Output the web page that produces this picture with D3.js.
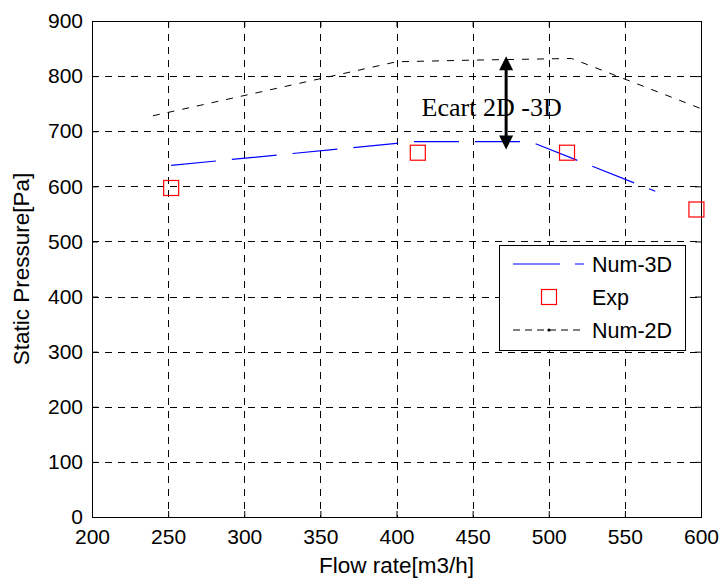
<!DOCTYPE html>
<html>
<head>
<meta charset="utf-8">
<script src="https://cdn.jsdelivr.net/npm/d3@7"></script>
<style>
  body { margin: 0; background: #fff; }
  svg { display: block; }
  text { font-family: "Liberation Sans", Arial, sans-serif; fill: #000; }
</style>
</head>
<body>
<svg id="chart" width="723" height="578"></svg>
<script>
// data
const flow2D = [240, 400, 450, 515, 600];
const num2D = [728, 826, 829, 832, 741];
const flow3D = [252, 400, 410, 488, 570];
const num3D = [638, 678, 681, 681, 591];
const flowExp = [252, 414, 512, 597];
const pExp = [597, 661, 661, 558];
const xTicks = [200, 250, 300, 350, 400, 450, 500, 550, 600];
const yTicks = [0, 100, 200, 300, 400, 500, 600, 700, 800, 900];
const legendLabels = ['Num-3D', 'Exp', 'Num-2D'];
const ecart = { flow: 472, top: 836, bottom: 667, label: 'Ecart 2D -3D', textFlow: 416.5, textP: 727.5 };

const mLeft = 92, mRight = 701, mTop = 21, mBottom = 517;
const x = d3.scaleLinear().domain([200, 600]).range([mLeft, mRight]);
const y = d3.scaleLinear().domain([0, 900]).range([mBottom, mTop]);

const svg = d3.select('#chart');
svg.append('rect').attr('width', 723).attr('height', 578).attr('fill', '#fff');

// grid
const grid = svg.append('g').attr('stroke', '#000').attr('stroke-width', 1).attr('stroke-dasharray', '7,6');
grid.selectAll('.gx').data(xTicks.slice(1, -1)).enter().append('line')
  .attr('x1', d => Math.round(x(d)) + 0.5).attr('x2', d => Math.round(x(d)) + 0.5)
  .attr('y1', mTop).attr('y2', mBottom);
grid.selectAll('.gy').data(yTicks.slice(1, -1)).enter().append('line')
  .attr('y1', d => Math.round(y(d)) + 0.5).attr('y2', d => Math.round(y(d)) + 0.5)
  .attr('x1', mLeft).attr('x2', mRight);

// axes
const fmt = d3.format('d');
const axB = svg.append('g').attr('transform', `translate(0,${mBottom})`)
  .call(d3.axisBottom(x).tickValues(xTicks).tickFormat(fmt).tickSizeInner(-6).tickSizeOuter(0).tickPadding(12));
const axL = svg.append('g').attr('transform', `translate(${mLeft},0)`)
  .call(d3.axisLeft(y).tickValues(yTicks).tickFormat(fmt).tickSizeInner(-6).tickSizeOuter(0).tickPadding(9));
const axT = svg.append('g').attr('transform', `translate(0,${mTop})`)
  .call(d3.axisTop(x).tickValues(xTicks).tickFormat('').tickSizeInner(-6).tickSizeOuter(0));
const axR = svg.append('g').attr('transform', `translate(${mRight},0)`)
  .call(d3.axisRight(y).tickValues(yTicks).tickFormat('').tickSizeInner(-6).tickSizeOuter(0));
[axB, axL, axT, axR].forEach(a => {
  a.select('.domain').remove();
  a.selectAll('line').attr('stroke', '#000');
  a.selectAll('text').style('font-size', '21px').attr('fill', '#000');
});
axB.selectAll('text').attr('dy', '0.71em');

svg.append('rect').attr('x', mLeft + 0.5).attr('y', mTop + 0.5)
  .attr('width', mRight - mLeft).attr('height', mBottom - mTop)
  .attr('fill', 'none').attr('stroke', '#000').attr('stroke-width', 1);

// lines
const line = d3.line().x(d => x(d[0])).y(d => y(d[1]));
svg.append('path').datum(d3.zip(flow2D, num2D)).attr('d', line)
  .attr('fill', 'none').attr('stroke', '#000').attr('stroke-width', 1).attr('stroke-dasharray', '7,8');
svg.append('path').datum(d3.zip(flow3D, num3D)).attr('d', line)
  .attr('fill', 'none').attr('stroke', '#0000ff').attr('stroke-width', 1.2).attr('stroke-dasharray', '45,16');

svg.selectAll('.exp').data(d3.zip(flowExp, pExp)).enter().append('rect')
  .attr('x', d => x(d[0]) - 7.5).attr('y', d => y(d[1]) - 7.5)
  .attr('width', 15).attr('height', 15)
  .attr('fill', 'none').attr('stroke', '#ff0000').attr('stroke-width', 1.2);

// annotation
svg.append('text').attr('x', x(ecart.textFlow)).attr('y', y(ecart.textP))
  .style('font-family', '"Liberation Serif", "Times New Roman", serif').style('font-size', '26px')
  .text(ecart.label);
const ax = x(ecart.flow), at = y(ecart.top), ab = y(ecart.bottom);
svg.append('line').attr('x1', ax).attr('x2', ax).attr('y1', at + 10).attr('y2', ab - 10)
  .attr('stroke', '#000').attr('stroke-width', 3);
svg.append('path').attr('d', `M${ax},${at}L${ax - 7},${at + 14}L${ax + 7},${at + 14}Z`).attr('fill', '#000');
svg.append('path').attr('d', `M${ax},${ab}L${ax - 7},${ab - 14}L${ax + 7},${ab - 14}Z`).attr('fill', '#000');

// axis titles
svg.append('text').attr('x', (mLeft + mRight) / 2).attr('y', 573).attr('text-anchor', 'middle')
  .style('font-size', '22.5px').text('Flow rate[m3/h]');
svg.append('text').attr('transform', `translate(29,${(mTop + mBottom) / 2}) rotate(-90)`)
  .attr('text-anchor', 'middle').style('font-size', '22.5px').text('Static Pressure[Pa]');

// legend
const lg = svg.append('g');
lg.append('rect').attr('x', 499.5).attr('y', 245.5).attr('width', 186).attr('height', 105)
  .attr('fill', '#fff').attr('stroke', '#000').attr('stroke-width', 1);
const rows = lg.selectAll('.row').data(legendLabels).enter().append('g')
  .attr('transform', (d, i) => `translate(0,${264 + i * 33})`);
rows.append('text').attr('x', 592).attr('dy', '0.35em').style('font-size', '21.5px').text(d => d);
lg.append('line').attr('x1', 513).attr('x2', 584).attr('y1', 264).attr('y2', 264)
  .attr('stroke', '#0000ff').attr('stroke-width', 1.2).attr('stroke-dasharray', '47,15');
lg.append('rect').attr('x', 549 - 7.5).attr('y', 297 - 7.5).attr('width', 15).attr('height', 15)
  .attr('fill', 'none').attr('stroke', '#ff0000').attr('stroke-width', 1.2);
lg.append('line').attr('x1', 513).attr('x2', 584).attr('y1', 330).attr('y2', 330)
  .attr('stroke', '#000').attr('stroke-width', 1).attr('stroke-dasharray', '7,5');
lg.append('circle').attr('cx', 549).attr('cy', 330).attr('r', 1.6).attr('fill', '#000');
</script>
</body>
</html>
